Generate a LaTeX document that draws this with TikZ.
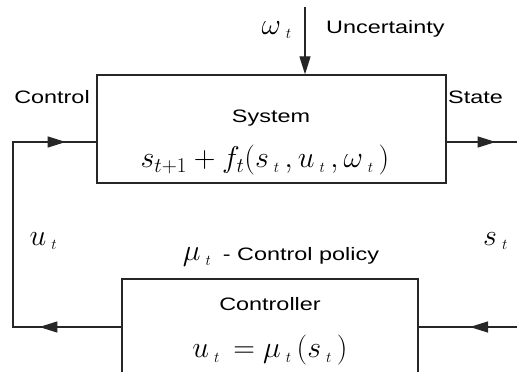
\RequirePackage{fix-cm}
\documentclass[tikz,border=0pt]{standalone}
\usepackage{fontspec}
\setmainfont[FakeStretch=1.3]{Liberation Sans}
\usetikzlibrary{arrows.meta,decorations.markings}

% loose subscript t, set apart from its letter
\newcommand\tsub{\,{}_{\scriptscriptstyle t}\,}

\tikzset{
    tri/.tip={Triangle[length=18pt,width=11pt]},
    blk/.style={draw=black!85,line width=1.3pt,inner sep=0pt},
    wire/.style={draw=black!85,line width=1.2pt},
    lbl/.style={inner sep=0pt,font=\fontsize{18}{20}\selectfont},
    mth/.style={inner sep=0pt,font=\fontsize{30}{34}\selectfont}
}

\begin{document}
\begin{tikzpicture}[x=1pt,y=-1pt]
    \useasboundingbox (0,0) rectangle (517,372);
    \clip (0,0) rectangle (517,372);
    % blocks
    \node[blk,minimum width=349pt,minimum height=108pt] (sys) at (271.5,129) {};
    \node[blk,minimum width=296pt,minimum height=96pt] (ctrl) at (270,327) {};
    \node[lbl] (sysname) at (271,118) {System};
    \node[mth] (sysfx) at (265,160) {$s_{t+1}+f_t(s\tsub,u\tsub,\omega\tsub)$};
    \node[lbl] (ctrlname) at (270,304) {Controller};
    \node[mth] (ctrlfx) at (270,350) {$u\tsub=\mu\tsub(s\tsub)$};
    % free ends of the loop
    \coordinate (lc) at (13,327);
    \coordinate (lt) at (13,142);
    \coordinate (out) at (517,142);
    \coordinate (in) at (517,327);
    \coordinate (wtop) at (305,7);
    % feedback u_t and state s_t
    \draw[wire,postaction={decorate},decoration={markings,
        mark=at position 82pt with {\arrow{tri}},
        mark=at position 346pt with {\arrow{tri}}}]
        (ctrl.west) -- (lc) -- (lt) -- (sys.west |- lt);
    \draw[wire,postaction={decorate},decoration={markings,
        mark=at position 49pt with {\arrow{tri}}}]
        (sys.east |- out) -- (out);
    \draw[wire,postaction={decorate},decoration={markings,
        mark=at position 47pt with {\arrow{tri}}}]
        (in) -- (ctrl.east);
    \draw[wire,-tri] (wtop) -- (sys.north -| wtop);
    % labels
    \node[mth,anchor=east] (w) at (297,30) {$\omega\tsub$};
    \node[lbl,anchor=west] (unc) at (326,29) {Uncertainty};
    \node[lbl] (ctl) at (52,97) {Control};
    \node[lbl,anchor=west] (st) at (448,97) {State};
    \node[mth] (ut) at (46,241) {$u\tsub$};
    \node[mth] (stl) at (498,241) {$s\tsub$};
    \node[lbl] (policy) at (281,257) {{\fontsize{30}{34}\selectfont$\mu\tsub$}\ - Control policy};
\end{tikzpicture}
\end{document}
